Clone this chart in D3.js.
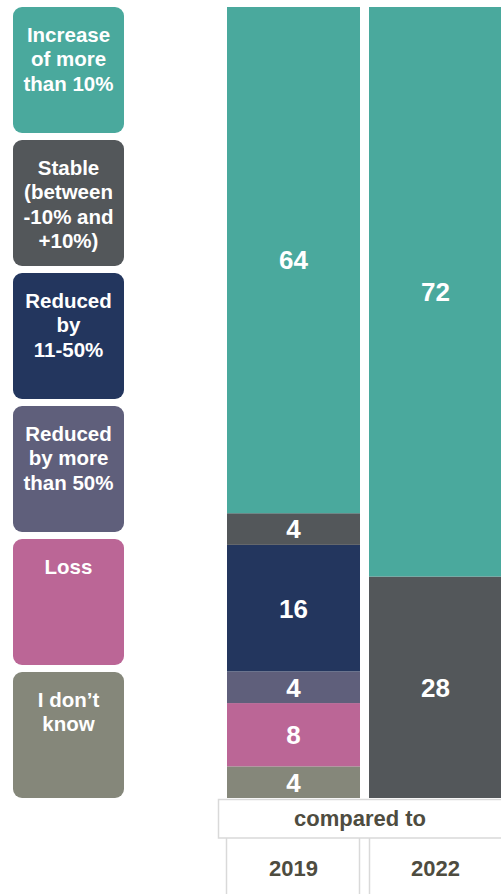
<!DOCTYPE html>
<html>
<head>
<meta charset="utf-8">
<script src="https://cdn.jsdelivr.net/npm/d3@7"></script>
<style>
  body { margin: 0; background: #fff; }
  svg { display: block; font-family: "Liberation Sans", Arial, sans-serif; }
</style>
</head>
<body>
<script>
// categories, top to bottom (same order as the stack)
const categories = ["Increase of more than 10%", "Stable (between -10% and +10%)", "Reduced by 11-50%", "Reduced by more than 50%", "Loss", "I don’t know"];
const legendLines = [
  ["Increase", "of more", "than 10%"],
  ["Stable", "(between", "-10% and", "+10%)"],
  ["Reduced", "by", "11-50%"],
  ["Reduced", "by more", "than 50%"],
  ["Loss"],
  ["I don’t", "know"]
];
const colors = ["#4aa99d", "#53575a", "#23365e", "#5f5f7b", "#bb6696", "#85877a"];
const years = ["2019", "2022"];
const values2019 = [64, 4, 16, 4, 8, 4];
const values2022 = [72, 28, 0, 0, 0, 0];
const headerLabel = "compared to";

const width = 501, height = 894;
const barTop = 7, barBottom = 798;

const svg = d3.select("body").append("svg")
    .attr("width", width)
    .attr("height", height)
    .attr("viewBox", [0, 0, width, height]);

// legend boxes
const legY = d3.scaleBand()
    .domain(categories)
    .range([7, 798])
    .paddingInner(7 / 133);

const leg = svg.append("g")
  .selectAll("g")
  .data(categories)
  .join("g")
    .attr("transform", d => `translate(13,${legY(d)})`);

leg.append("rect")
    .attr("width", 111)
    .attr("height", legY.bandwidth())
    .attr("rx", 9)
    .attr("fill", (d, i) => colors[i]);

leg.append("text")
    .attr("fill", "#fff")
    .attr("font-weight", "bold")
    .attr("font-size", 20.5)
    .attr("text-anchor", "middle")
  .selectAll("tspan")
  .data((d, i) => legendLines[i])
  .join("tspan")
    .attr("x", 55.5)
    .attr("y", (d, j) => 34.5 + j * 24.5)
    .text(d => d);

// stacked bars
const rows = years.map((y, i) => {
  const vals = i === 0 ? values2019 : values2022;
  const r = { year: y };
  categories.forEach((c, k) => r[c] = vals[k]);
  return r;
});

// stack from bottom up: reverse so first category is on top
const stack = d3.stack().keys(categories.slice().reverse())(rows);

const x = d3.scaleBand()
    .domain(years)
    .range([227, 502])
    .paddingInner(9 / 142);

const y = d3.scaleLinear()
    .domain([0, 100])
    .range([barBottom, barTop]);

const layer = svg.append("g")
  .selectAll("g")
  .data(stack)
  .join("g")
    .attr("fill", d => colors[categories.indexOf(d.key)]);

layer.selectAll("rect")
  .data(d => d)
  .join("rect")
    .attr("x", d => x(d.data.year))
    .attr("y", d => y(d[1]))
    .attr("width", x.bandwidth())
    .attr("height", d => y(d[0]) - y(d[1]));

layer.selectAll("text")
  .data(d => d.filter(s => s[1] - s[0] > 0))
  .join("text")
    .attr("x", d => x(d.data.year) + x.bandwidth() / 2)
    .attr("y", d => (y(d[0]) + y(d[1])) / 2)
    .attr("dy", "0.36em")
    .attr("text-anchor", "middle")
    .attr("fill", "#fff")
    .attr("font-weight", "bold")
    .attr("font-size", 26)
    .text(d => d[1] - d[0]);

// table below
const tbl = svg.append("g")
    .attr("fill", "none")
    .attr("stroke", "#d9d9d9")
    .attr("stroke-width", 1.5);

tbl.append("rect")
    .attr("x", 218.5)
    .attr("y", 799.5)
    .attr("width", 300)
    .attr("height", 38.5);

tbl.selectAll("line")
  .data([x.range()[0] - 1, x("2019") + x.bandwidth() - 1, x("2022")])
  .join("line")
    .attr("x1", d => d + 0.5)
    .attr("x2", d => d + 0.5)
    .attr("y1", 838)
    .attr("y2", height);

svg.append("text")
    .attr("x", 360)
    .attr("y", 818.5)
    .attr("dy", "0.36em")
    .attr("text-anchor", "middle")
    .attr("fill", "#4e4c40")
    .attr("font-weight", "bold")
    .attr("font-size", 22)
    .text(headerLabel);

svg.append("g")
  .selectAll("text")
  .data(years)
  .join("text")
    .attr("x", d => x(d) + x.bandwidth() / 2)
    .attr("y", 868)
    .attr("dy", "0.36em")
    .attr("text-anchor", "middle")
    .attr("fill", "#4e4c40")
    .attr("font-weight", "bold")
    .attr("font-size", 22)
    .text(d => d);
</script>
</body>
</html>
